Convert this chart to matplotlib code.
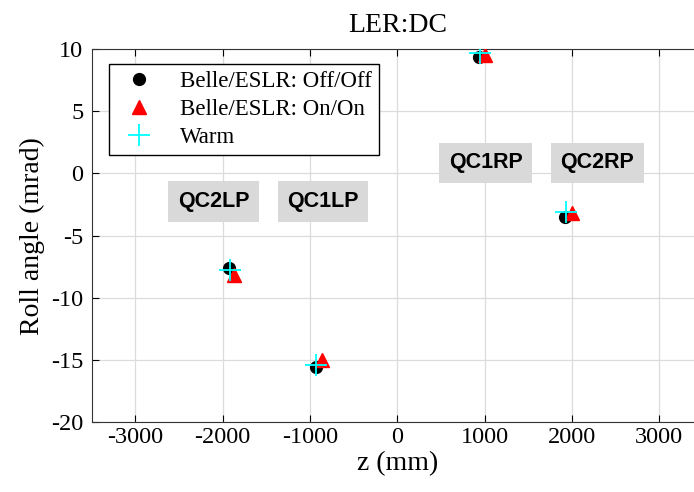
import matplotlib.pyplot as plt

# Datos de ángulo de rotación por imán (z en mm, ángulo en mrad)
magnets = ['QC2LP', 'QC1LP', 'QC1RP', 'QC2RP']
z_off = [-1930, -935, 935, 1920]
roll_off = [-7.6, -15.55, 9.35, -3.5]
z_on = [-1870, -860, 1005, 2000]
roll_on = [-8.2, -15.0, 9.5, -3.2]
z_warm = [-1920, -935, 950, 1930]
roll_warm = [-7.75, -15.4, 9.65, -3.1]
label_z = [-2100, -850, 1015, 2290]
label_roll = [-2.25, -2.25, 0.85, 0.85]

plt.rcParams['font.family'] = ['Liberation Serif', 'DejaVu Serif']
plt.rcParams['axes.unicode_minus'] = False

fig = plt.figure(figsize=(6.94, 4.92), dpi=100)
ax = fig.add_axes([0.132, 0.1417, 0.8809, 0.7587])

ax.plot(z_off, roll_off, 'o', color='black', markersize=8.5, label='Belle/ESLR: Off/Off', zorder=3)
ax.plot(z_on, roll_on, '^', color='red', markersize=9.5, label='Belle/ESLR: On/On', zorder=4)
ax.plot(z_warm, roll_warm, '+', color='cyan', markersize=16, markeredgewidth=1.3, label='Warm', zorder=5)

for name, x, y in zip(magnets, label_z, label_roll):
    ax.text(x, y, name, ha='center', va='center', fontsize=15.5, fontweight='bold',
            family='Liberation Sans',
            bbox=dict(boxstyle='square,pad=0.45', facecolor='#d9d9d9', edgecolor='none'))

ax.set_xlim(-3500, 3500)
ax.set_ylim(-20, 10)
ax.set_xticks([-3000, -2000, -1000, 0, 1000, 2000, 3000])
ax.set_yticks([-20, -15, -10, -5, 0, 5, 10])
ax.tick_params(direction='in', top=True, labelsize=17.5, length=5)
ax.tick_params(axis='y', pad=6)
ax.grid(True, color='#dcdcdc', linewidth=0.9)
ax.set_axisbelow(True)
for s in ax.spines.values():
    s.set_color('#333333')

ax.set_xlabel('z (mm)', fontsize=20, labelpad=2)
ax.set_ylabel('Roll angle (mrad)', fontsize=20, labelpad=4)
ax.set_title('LER:DC', fontsize=20, pad=12)
ax.legend(loc='upper left', bbox_to_anchor=(0.029, 0.959), fontsize=16.5, frameon=True,
          fancybox=False, edgecolor='black', framealpha=1, handletextpad=0.8,
          borderpad=0.3, labelspacing=0.3, borderaxespad=0)

plt.savefig('out.png', dpi=100)
